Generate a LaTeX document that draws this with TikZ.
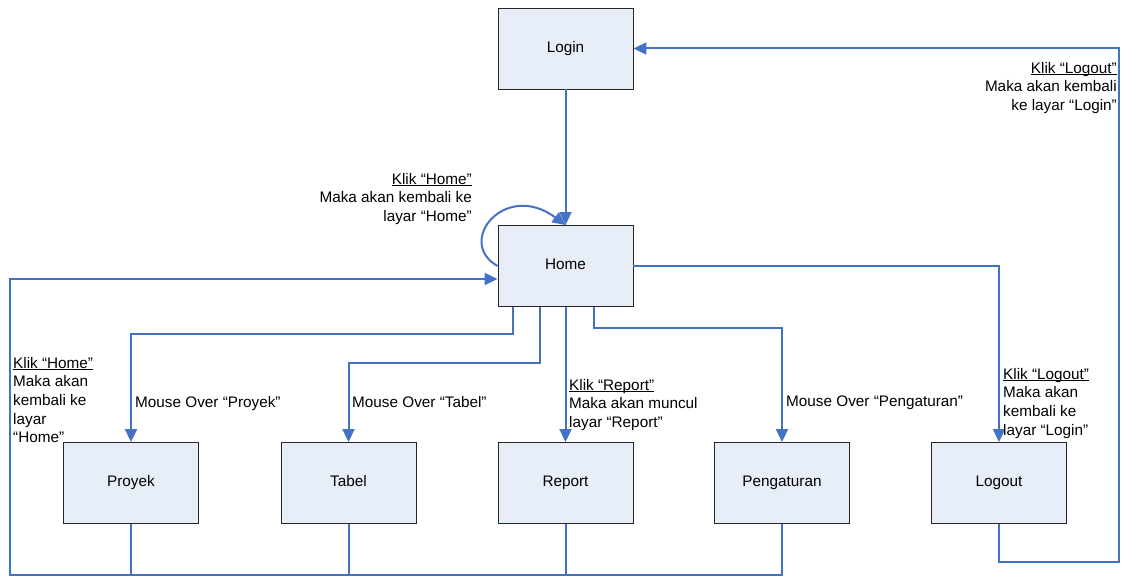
\documentclass[tikz,border=0pt]{standalone}
\usepackage{fontspec}
\setmainfont{Liberation Sans}
\usetikzlibrary{arrows.meta}
\definecolor{linkblue}{RGB}{68,114,196}
\definecolor{boxfill}{RGB}{232,238,247}
% underline at a fixed depth below the baseline
\newcommand\undl[1]{\setbox0\hbox{#1}\rlap{\rule[-1.8pt]{\wd0}{0.8pt}}\box0}
\begin{document}
\begin{tikzpicture}[x=1pt,y=-1pt,
  screen/.style={draw=black!85, line width=0.9pt, fill=boxfill,
    minimum width=135pt, minimum height=81pt, inner sep=0pt,
    text height=11pt, text depth=3.5pt,
    font=\fontsize{15.3}{18.6}\selectfont},
  link/.style={draw=linkblue, line width=2pt},
  arr/.style={link, -{Triangle[length=13pt,width=12pt]}},
  note/.style={inner sep=0pt, font=\fontsize{15.3}{18.6}\selectfont}]
\useasboundingbox (0,0) rectangle (1121,577);

% screens
\node[screen] (login) at (565.5,48.5) {Login};
\node[screen] (home) at (565.5,266) {Home};
\node[screen] (proyek) at (131,483) {Proyek};
\node[screen] (tabel) at (348.5,483) {Tabel};
\node[screen] (report) at (565.5,483) {Report};
\node[screen] (pengaturan) at (782,483) {Pengaturan};
\node[screen] (logout) at (999,483) {Logout};

\coordinate (rbot) at (1119,562);
\coordinate (lbot) at (10,575);

% login -> home
\draw[arr] (login) -- (home);

% home self loop
\draw[arr] (home.west) .. controls (455,242) and (505,180) .. (home.north);

% home -> menu screens
\draw[arr] ([xshift=-53pt]home.south) -- ++(0,27) -| (proyek);
\draw[arr] ([xshift=-26pt]home.south) -- ++(0,56) -| (tabel);
\draw[arr] (home.south) -- (report.north);
\draw[arr] ([xshift=28.5pt]home.south) -- ++(0,21) -| (pengaturan);
\draw[arr] (home.east) -| (logout);

% logout -> login
\draw[arr] (logout.south) |- (rbot) |- (login.east);

% back to home
\draw[link] (proyek.south) -- (proyek.south |- lbot);
\draw[link] (tabel.south) -- (tabel.south |- lbot);
\draw[link] (report.south) -- (report.south |- lbot);
\draw[arr] (pengaturan.south) |- (lbot) |- ([yshift=-13pt]home.west);

% labels
\node[note, anchor=north east, align=right] (lhome) at (472,173)
  {\undl{Klik “Home”}\\Maka akan kembali ke\\layar “Home”};
\node[note, anchor=north west, align=left] (lback) at (13,357)
  {\undl{Klik “Home”}\\Maka akan\\kembali ke\\layar\\“Home”};
\node[note, anchor=north west] (lproyek) at (135,396) {Mouse Over “Proyek”};
\node[note, anchor=north west] (ltabel) at (352,396) {Mouse Over “Tabel”};
\node[note, anchor=north west, align=left] (lreport) at (569,379)
  {\undl{Klik “Report”}\\Maka akan muncul\\layar “Report”};
\node[note, anchor=north west] (lpeng) at (786,396) {Mouse Over “Pengaturan”};
\node[note, anchor=north east, align=right] (llogin) at (1117,62)
  {\undl{Klik “Logout”}\\Maka akan kembali\\ke layar “Login”};
\node[note, anchor=north west, align=left] (llogout) at (1003,368)
  {\undl{Klik “Logout”}\\Maka akan\\kembali ke\\layar “Login”};
\end{tikzpicture}
\end{document}
